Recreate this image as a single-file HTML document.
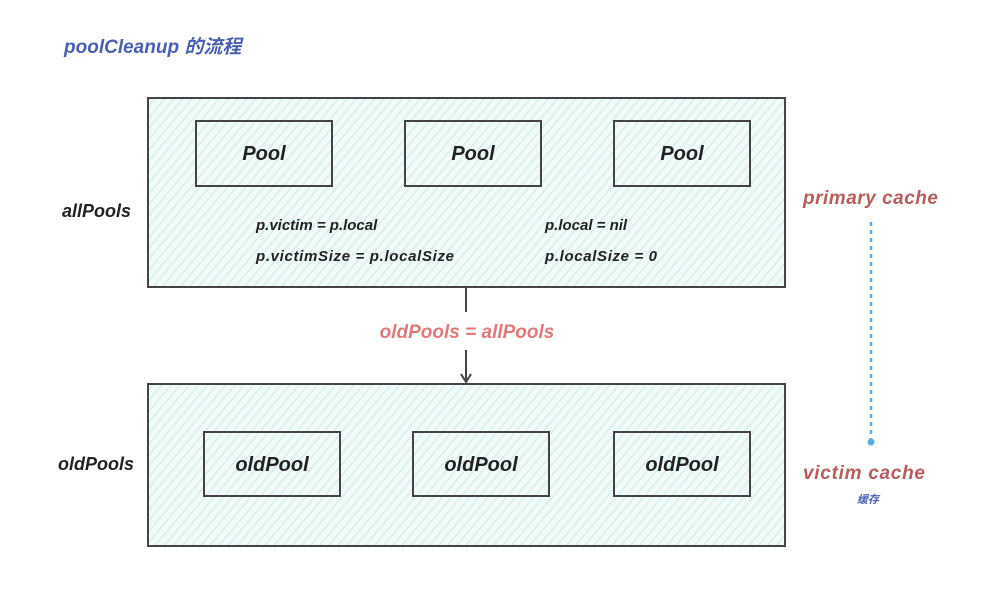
<!DOCTYPE html>
<html><head><meta charset="utf-8"><style>
html,body{margin:0;padding:0;background:#fff;width:992px;height:596px;overflow:hidden}
svg text{font-family:"Liberation Sans","Noto Sans CJK SC",sans-serif;font-style:italic;font-weight:bold}
</style></head><body>
<svg width="992" height="596" viewBox="0 0 992 596" xmlns="http://www.w3.org/2000/svg">
<defs>
<pattern id="h" width="7" height="7" patternUnits="userSpaceOnUse" patternTransform="rotate(40)">
<rect width="7" height="7" fill="#f1faf9"/>
<line x1="0" y1="0" x2="0" y2="7" stroke="#c6ebe5" stroke-width="2"/>
</pattern>
</defs>
<text x="64" y="53" font-size="19" fill="#4a5fb0">poolCleanup 的流程</text>
<rect x="148" y="98" width="637" height="189" fill="url(#h)" stroke="#444" stroke-width="2"/>
<rect x="196" y="121" width="136" height="65" fill="url(#h)" stroke="#444" stroke-width="2"/>
<rect x="405" y="121" width="136" height="65" fill="url(#h)" stroke="#444" stroke-width="2"/>
<rect x="614" y="121" width="136" height="65" fill="url(#h)" stroke="#444" stroke-width="2"/>
<g font-size="20" fill="#222" text-anchor="middle">
<text x="264" y="160">Pool</text><text x="473" y="160">Pool</text><text x="682" y="160">Pool</text>
</g>
<g font-size="15" fill="#222">
<text x="256" y="230">p.victim = p.local</text>
<text x="256" y="261" textLength="198">p.victimSize = p.localSize</text>
<text x="545" y="230">p.local = nil</text>
<text x="545" y="261" textLength="112">p.localSize = 0</text>
</g>
<text x="62" y="217" font-size="18" fill="#222">allPools</text>
<text x="58" y="470" font-size="18" fill="#222">oldPools</text>
<line x1="466" y1="287" x2="466" y2="312" stroke="#444" stroke-width="2"/>
<line x1="466" y1="350" x2="466" y2="381" stroke="#444" stroke-width="2"/>
<path d="M461 374 L466 382 L471 374" fill="none" stroke="#444" stroke-width="2"/>
<text x="467" y="338" font-size="19" fill="#e07a7a" text-anchor="middle">oldPools = allPools</text>
<rect x="148" y="384" width="637" height="162" fill="url(#h)" stroke="#444" stroke-width="2"/>
<rect x="204" y="432" width="136" height="64" fill="url(#h)" stroke="#444" stroke-width="2"/>
<rect x="413" y="432" width="136" height="64" fill="url(#h)" stroke="#444" stroke-width="2"/>
<rect x="614" y="432" width="136" height="64" fill="url(#h)" stroke="#444" stroke-width="2"/>
<g font-size="20" fill="#222" text-anchor="middle">
<text x="272" y="471">oldPool</text><text x="481" y="471">oldPool</text><text x="682" y="471">oldPool</text>
</g>
<text x="803" y="204" font-size="19" fill="#b85c5c" textLength="135">primary cache</text>
<line x1="871" y1="222" x2="871" y2="442" stroke="#5aaee8" stroke-width="2.5" stroke-dasharray="4 4"/>
<circle cx="871" cy="442" r="3.5" fill="#5aaee8"/>
<text x="803" y="479" font-size="19" fill="#b85c5c" textLength="122">victim cache</text>
<text x="857" y="503" font-size="11" fill="#4a5fb0" font-style="normal" font-weight="normal">缓存</text>
</svg>
</body></html>
